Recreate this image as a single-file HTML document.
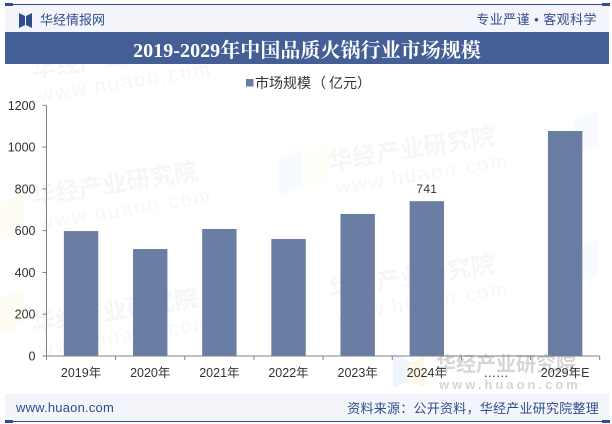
<!DOCTYPE html>
<html>
<head>
<meta charset="utf-8">
<style>
html,body{margin:0;padding:0;background:#fff;}
svg{display:block;}
text{font-family:"Liberation Sans","Noto Sans CJK SC",sans-serif;text-spacing-trim:space-all;}
.serif{font-family:"Liberation Serif","Noto Serif CJK SC",serif;}
</style>
</head>
<body>
<svg id="chart" width="612" height="424" viewBox="0 0 612 424" xmlns="http://www.w3.org/2000/svg">
  <rect width="612" height="424" fill="#fff"/>
  <g id="watermarks"></g>

  <rect x="5" y="5" width="604" height="27" fill="#f3f5fa"/>
  <rect x="5" y="4" width="603" height="1" fill="#2f4d8f"/>
  <rect x="5" y="3" width="8" height="3" fill="#2f4d8f"/>
  <rect x="602" y="3" width="8" height="3" fill="#2f4d8f"/>
  <path d="M19 13 L25 16 L25 25 L19 28 Z M32 13 L26 16 L26 25 L32 28 Z" fill="#2f4d8f"/>
  <text x="40" y="24.5" font-size="13" fill="#2f4d8f">华经情报网</text>
  <text x="597" y="24" text-anchor="end" font-size="13" fill="#2f4d8f" letter-spacing="0.45">专业严谨 • 客观科学</text>

  <rect x="5" y="32" width="604" height="32" fill="#445e96"/>
  <text class="serif" x="307" y="57" text-anchor="middle" font-size="20" font-weight="700" fill="#fff" letter-spacing="0.05">2019-2029年中国品质火锅行业市场规模</text>

  <rect x="246" y="79" width="7.5" height="7.5" fill="#6a7da3"/>
  <text x="255" y="88" font-size="14" fill="#333">市场规模<tspan dx="1">（</tspan><tspan dx="3">亿元）</tspan></text>

  <g id="plot"></g>

  <rect x="5" y="394" width="604" height="27" fill="#f3f5fa"/>
  <rect x="5" y="421" width="603" height="1" fill="#2f4d8f"/>
  <rect x="5" y="420" width="8" height="3" fill="#2f4d8f"/>
  <rect x="602" y="420" width="8" height="3" fill="#2f4d8f"/>
  <text x="16" y="412" font-size="13" fill="#2f4d8f" letter-spacing="0.2">www.huaon.com</text>
  <text x="599" y="413" text-anchor="end" font-size="13" fill="#2f4d8f" letter-spacing="0.25">资料来源：公开资料，华经产业研究院整理</text>
</svg>
<script>
const categories = ['2019年','2020年','2021年','2022年','2023年','2024年','……','2029年E'];
const seriesValues = [598, 512, 608, 560, 680, 741, null, 1077];
const printedValues = [null, null, null, null, null, '741', null, null];
const yTickValues = [0, 200, 400, 600, 800, 1000, 1200];

const NS = 'http://www.w3.org/2000/svg';
const plot = document.getElementById('plot');
const left = 46.5, right = 599.7, top_ = 105.3, bottom = 356;
const yMax = 1200;
const band = (right - left) / categories.length;
const barW = 34.4;
function xScale(i){ return left + band * (i + 0.5); }
function yScale(v){ return bottom - (v / yMax) * (bottom - top_); }
function mk(tag, attrs, parent){
  const el = document.createElementNS(NS, tag);
  for (const k in attrs) el.setAttribute(k, attrs[k]);
  parent.appendChild(el);
  return el;
}

seriesValues.forEach(function(v, i){
  if (v === null) return;
  const bar = mk('rect', {x: xScale(i) - barW / 2, y: yScale(v), width: barW, height: bottom - yScale(v), fill: '#6a7da3'}, plot);
  
  
  if (printedValues[i] !== null) {
    const lab = mk('text', {x: xScale(i), y: yScale(v) - 8, 'text-anchor': 'middle', 'font-size': 12, fill: '#333', 'letter-spacing': '0.3'}, plot);
    lab.textContent = printedValues[i];
    
    
  }
});

const yAxis = mk('line', {x1: left, x2: left, y1: top_, y2: bottom, stroke: '#808080', 'stroke-width': 1}, plot);


const xAxis = mk('line', {x1: left, x2: right, y1: bottom, y2: bottom, stroke: '#808080', 'stroke-width': 1}, plot);



yTickValues.forEach(function(t){
  const y = yScale(t);
  const tick = mk('line', {x1: left - 4, x2: left, y1: y, y2: y, stroke: '#808080', 'stroke-width': 1}, plot);
  
  
  const lab = mk('text', {x: 35.5, y: y + 4.5, 'text-anchor': 'end', 'font-size': 12.5, fill: '#333'}, plot);
  lab.textContent = String(t);
  
  
});

categories.forEach(function(c, i){
  const x0 = left + band * i;
  const tick = mk('line', {x1: x0, x2: x0, y1: bottom, y2: bottom + 4, stroke: '#808080', 'stroke-width': 1}, plot);
  
  
  const lab = mk('text', {x: xScale(i), y: 377, 'text-anchor': 'middle', 'font-size': 12.5, fill: '#333'}, plot);
  lab.textContent = c;
  
  
});
const endTick = mk('line', {x1: right, x2: right, y1: bottom, y2: bottom + 4, stroke: '#808080', 'stroke-width': 1}, plot);



/* faint brand watermarks */
const wmGroup = document.getElementById('watermarks');
const wmAnchors = [[33, 78], [33, 205], [33, 332], [330, 170], [330, 298]];
wmAnchors.forEach(function(p){
  const g = mk('g', {transform: 'translate(' + p[0] + ' ' + p[1] + ') rotate(-9)', opacity: 0.04}, wmGroup);
  
  
  const a = mk('text', {x: 0, y: 0, 'font-size': 24, 'font-weight': 700, fill: '#444'}, g);
  a.textContent = '华经产业研究院';
  const b = mk('text', {x: 3, y: 25, 'font-size': 20, fill: '#444', 'letter-spacing': '2.2'}, g);
  b.textContent = 'www.huaon.com';
});
const wmIcons = [[0, 195, '#fff6d8'], [278, 150, '#e6effc'], [306, 145, '#fffbe8'], [0, 290, '#fff6d8'], [575, 110, '#e6effc'], [575, 240, '#e6effc']];
wmIcons.forEach(function(p){
  const s = mk('path', {d: 'M' + p[0] + ' ' + (p[1] + 8) + ' l24 -8 v34 l-24 12 Z', fill: p[2], opacity: 0.3}, wmGroup);
  
  
});
const wmStrong = mk('g', {opacity: 0.3}, wmGroup);


mk('path', {d: 'M393 353 L418 366 V378 L393 388 Z', fill: '#cfe0f8'}, wmStrong);
mk('path', {d: 'M424 355 L406 366 V378 L424 388 Z', fill: '#f8e6b0'}, wmStrong);
const sa = mk('text', {x: 436, y: 371, 'font-size': 20, 'font-weight': 700, fill: '#777'}, wmStrong);
sa.textContent = '华经产业研究院';
const sb = mk('text', {x: 439, y: 389, 'font-size': 13, 'font-weight': 700, fill: '#777', 'letter-spacing': '3'}, wmStrong);
sb.textContent = 'www.huaon.com';
</script>
</body>
</html>
